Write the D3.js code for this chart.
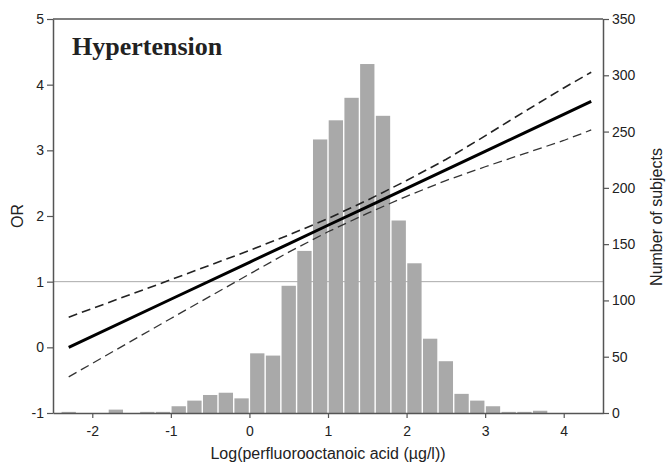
<!DOCTYPE html>
<html>
<head>
<meta charset="utf-8">
<script src="https://cdn.jsdelivr.net/npm/d3@7"></script>
<style>
  body { margin: 0; background: #fff; }
  text { font-family: Arial, "Liberation Sans", sans-serif; fill: #222; }
</style>
</head>
<body>
<div id="chart"></div>
<script>
// histogram bins (left edge, width 0.2) and counts
const binStarts = [-2.4, -2.2, -2.0, -1.8, -1.6, -1.4, -1.2, -1.0, -0.8, -0.6, -0.4, -0.2,
  0.0, 0.2, 0.4, 0.6, 0.8, 1.0, 1.2, 1.4, 1.6, 1.8, 2.0, 2.2, 2.4, 2.6, 2.8, 3.0, 3.2, 3.4, 3.6];
const counts = [1, 0, 0, 3, 0, 1, 1, 6, 11, 16, 18, 13,
  53, 51, 113, 144, 243, 260, 280, 310, 264, 171, 133, 66, 46, 17, 11, 6, 1, 1, 2];
const binWidth = 0.2;

// fitted OR and confidence band
const fitX = [-2.3, -1, 0, 0.5, 1, 1.5, 2, 2.5, 3, 3.5, 4, 4.35];
const fitOR = [0, 0.732, 1.295, 1.577, 1.859, 2.14, 2.422, 2.703, 2.985, 3.266, 3.548, 3.745];
const upperOR = [0.46, 1.03, 1.475, 1.71, 1.96, 2.24, 2.54, 2.86, 3.22, 3.59, 3.95, 4.19];
const lowerOR = [-0.45, 0.44, 1.115, 1.45, 1.76, 2.04, 2.30, 2.54, 2.75, 2.95, 3.15, 3.31];

const xTicks = [-2, -1, 0, 1, 2, 3, 4];
const orTicks = [-1, 0, 1, 2, 3, 4, 5];
const countTicks = [0, 50, 100, 150, 200, 250, 300, 350];

const MARGIN = { TOP: 19, BOTTOM: 53, LEFT: 53, RIGHT: 64 };
const WIDTH = 667 - MARGIN.LEFT - MARGIN.RIGHT,
  HEIGHT = 466 - MARGIN.TOP - MARGIN.BOTTOM;

const svg = d3
  .select("#chart")
  .append("svg")
  .attr("width", 667)
  .attr("height", 466);

const g = svg
  .append("g")
  .attr("transform", `translate(${MARGIN.LEFT}, ${MARGIN.TOP})`);

const x = d3.scaleLinear().domain([-2.5, 4.5]).range([0, WIDTH]);
const yOR = d3.scaleLinear().domain([-1, 5]).range([HEIGHT, 0]);
const yN = d3.scaleLinear().domain([0, 350]).range([HEIGHT, 0]);

// reference line OR = 1
g.append("line")
  .attr("x1", 0)
  .attr("x2", WIDTH)
  .attr("y1", yOR(1))
  .attr("y2", yOR(1))
  .attr("stroke", "#aaa")
  .attr("stroke-width", 1);

// histogram
g.append("g")
  .selectAll("rect")
  .data(binStarts)
  .enter()
  .append("rect")
  .attr("x", (d) => x(d) + 0.7)
  .attr("width", (d) => x(d + binWidth) - x(d) - 1.4)
  .attr("y", (d, i) => yN(counts[i]))
  .attr("height", (d, i) => HEIGHT - yN(counts[i]))
  .attr("fill", "#a9a9a9");

// lines
const line = (vals) =>
  d3
    .line()
    .x((d) => x(d))
    .y((d, i) => yOR(vals[i]))(fitX);

g.append("path")
  .attr("d", line(upperOR))
  .attr("fill", "none")
  .attr("stroke", "#222")
  .attr("stroke-width", 1.6)
  .attr("stroke-dasharray", "9,5");

g.append("path")
  .attr("d", line(lowerOR))
  .attr("fill", "none")
  .attr("stroke", "#333")
  .attr("stroke-width", 1.3)
  .attr("stroke-dasharray", "9,5");

g.append("path")
  .attr("d", line(fitOR))
  .attr("fill", "none")
  .attr("stroke", "#000")
  .attr("stroke-width", 3);

// frame top
g.append("line")
  .attr("x1", 0)
  .attr("x2", WIDTH)
  .attr("y1", 0)
  .attr("y2", 0)
  .attr("stroke", "#555")
  .attr("stroke-width", 1.5);

// axes
const styleAxis = (sel) => {
  sel.select(".domain").attr("stroke", "#555").attr("stroke-width", 1.5);
  sel.selectAll(".tick line").attr("stroke", "#555").attr("stroke-width", 1.2);
  sel.selectAll(".tick text").style("font-size", "14px").attr("fill", "#222");
};

g.append("g")
  .attr("transform", `translate(0, ${HEIGHT})`)
  .call(d3.axisBottom(x).tickValues(xTicks).tickSize(5).tickSizeOuter(0).tickFormat(d3.format("d")))
  .call(styleAxis)
  .selectAll(".tick text")
  .attr("dy", "1.1em");

g.append("g")
  .call(d3.axisLeft(yOR).tickValues(orTicks).tickSize(6).tickSizeOuter(0).tickFormat(d3.format("d")))
  .call(styleAxis);

g.append("g")
  .attr("transform", `translate(${WIDTH}, 0)`)
  .call(d3.axisRight(yN).tickValues(countTicks).tickSize(6).tickSizeOuter(0))
  .call(styleAxis);

svg.selectAll(".tick text").text(function () {
  return d3.select(this).text().replace("\u2212", "-");
});

// labels
svg.append("text")
  .attr("x", 72)
  .attr("y", 55)
  .style("font-family", "'Times New Roman', 'Liberation Serif', serif")
  .style("font-weight", "bold")
  .style("font-size", "26px")
  .attr("fill", "#111")
  .text("Hypertension");

svg.append("text")
  .attr("transform", "translate(23, 216) rotate(-90)")
  .attr("text-anchor", "middle")
  .style("font-size", "16px")
  .text("OR");

svg.append("text")
  .attr("transform", "translate(662, 217) rotate(-90)")
  .attr("text-anchor", "middle")
  .style("font-size", "16px")
  .text("Number of subjects");

svg.append("text")
  .attr("x", 328)
  .attr("y", 459)
  .attr("text-anchor", "middle")
  .style("font-size", "16px")
  .text("Log(perfluorooctanoic acid (\u00b5g/l))");
</script>
</body>
</html>
